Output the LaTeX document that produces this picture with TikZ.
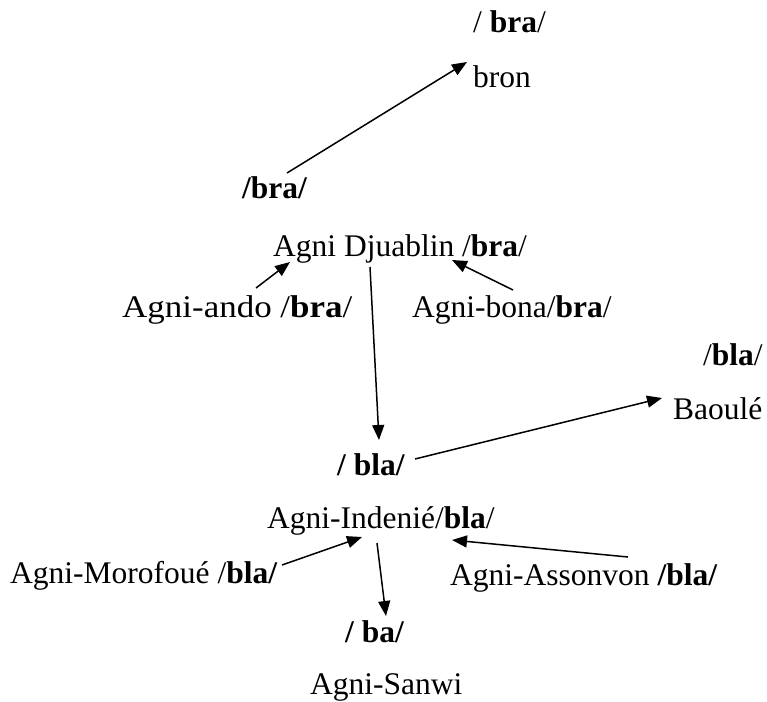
\documentclass[tikz,border=0pt]{standalone}
\usepackage{fontspec}
\setmainfont{Liberation Serif}
\usetikzlibrary{arrows.meta}
\begin{document}
\begin{tikzpicture}[x=1pt,y=-1pt,
  lbl/.style={anchor=base west,inner sep=0pt,font=\fontsize{31.5}{36}\selectfont},
  arr/.style={line width=1.5pt,-{Triangle[length=15pt,width=12pt]}}]
\useasboundingbox (0,0) rectangle (767,701);
% labels
\node[lbl] (brat) at (473,33) {/ \textbf{bra}/};
\node[lbl] (bron) at (473,87) {bron};
\node[lbl] (bram) at (242,198) {\textbf{/bra/}};
\node[lbl] (djua) at (273,256) {Agni Djuablin /\textbf{bra}/};
\node[lbl] (ando) at (122,317) {\scalebox{1.11}[1]{Agni-ando /\textbf{bra}/}};
\node[lbl] (bona) at (412,317) {Agni-bona/\textbf{bra}/};
\node[lbl] (blar) at (703,365) {/\textbf{bla}/};
\node[lbl] (baou) at (673,419) {Baoulé};
\node[lbl] (blam) at (337,475) {\textbf{/ bla/}};
\node[lbl] (inde) at (267,528) {Agni-Indenié/\textbf{bla}/};
\node[lbl] (moro) at (10,583) {Agni-Morofoué /\textbf{bla/}};
\node[lbl] (asso) at (450,585) {Agni-Assonvon \textbf{/bla/}};
\node[lbl] (ba) at (345,642) {\textbf{/ ba/}};
\node[lbl] (sanw) at (310,694) {Agni-Sanwi};
% connector ends
\coordinate (c1s) at (287,173); \coordinate (c1e) at (467,62);
\coordinate (c2s) at (256,288); \coordinate (c2e) at (290,262);
\coordinate (c3s) at (513,290); \coordinate (c3e) at (452,260);
\coordinate (c4s) at (370,267); \coordinate (c4e) at (379,440);
\coordinate (c5s) at (415,459); \coordinate (c5e) at (662,398);
\coordinate (c6s) at (282,565); \coordinate (c6e) at (362,537);
\coordinate (c7s) at (628,557); \coordinate (c7e) at (452,540);
\coordinate (c8s) at (377,543); \coordinate (c8e) at (386,616);
\draw[arr] (c1s) -- (c1e);
\draw[arr] (c2s) -- (c2e);
\draw[arr] (c3s) -- (c3e);
\draw[arr] (c4s) -- (c4e);
\draw[arr] (c5s) -- (c5e);
\draw[arr] (c6s) -- (c6e);
\draw[arr] (c7s) -- (c7e);
\draw[arr] (c8s) -- (c8e);
\end{tikzpicture}
\end{document}
